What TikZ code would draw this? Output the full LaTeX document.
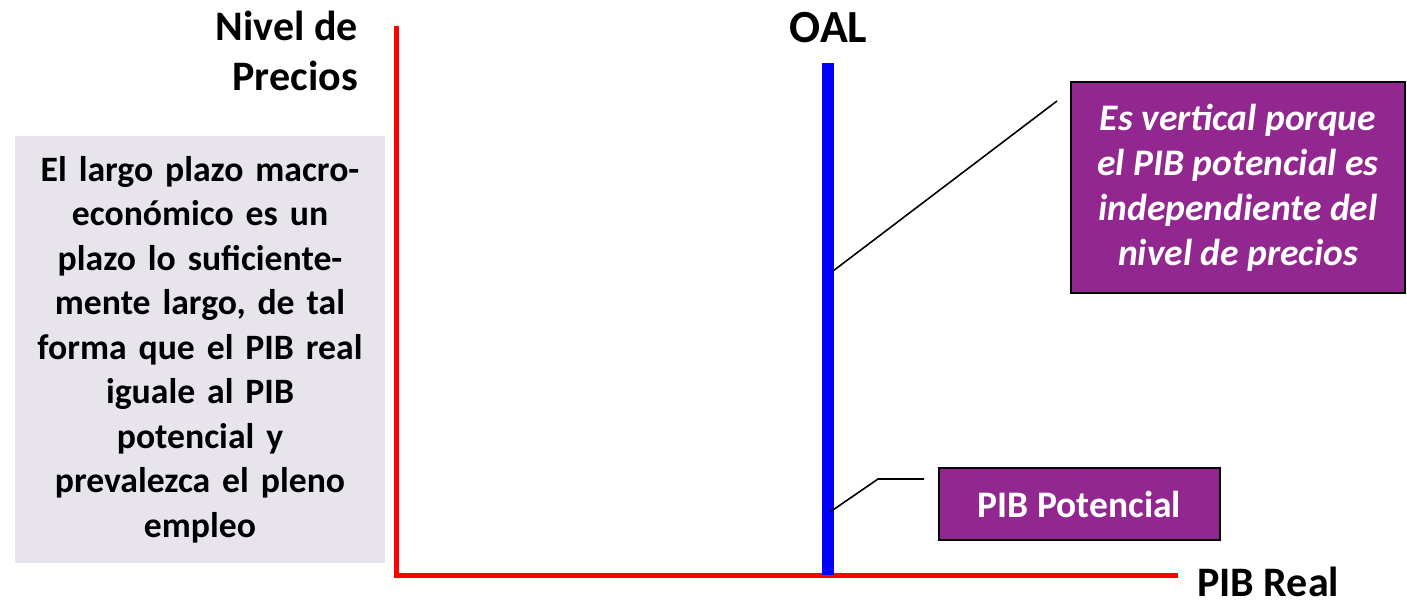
\documentclass[tikz,border=0pt]{standalone}
\usepackage{fontspec}
\setmainfont{Carlito}
\definecolor{boxpurple}{RGB}{146,40,143}
\definecolor{boxgray}{RGB}{232,228,236}
\definecolor{axisred}{RGB}{255,0,0}
\definecolor{oalblue}{RGB}{0,0,255}
\tikzset{
  bigtitle/.style={font=\fontsize{42}{50}\selectfont\bfseries, inner sep=0pt},
  notebox/.style={fill=boxgray, inner sep=0pt, align=center, font=\fontsize{35.7}{44.5}\selectfont\bfseries},
  purplebox/.style={fill=boxpurple, draw=black, line width=2.5pt, inner sep=0pt, align=center, text=white},
  leader/.style={draw=black, line width=1.6pt},
}
\begin{document}
\begin{tikzpicture}[x=1pt,y=-1pt]
\useasboundingbox (0,0) rectangle (1407,601);
% axes
\coordinate (ytop) at (396,26);
\coordinate (origin) at (396,575);
\coordinate (xend) at (1178,575);
\draw[axisred, line width=5pt] (ytop) -- (origin) -- (xend);
% OAL line
\coordinate (oaltop) at (828,63);
\coordinate (oalbot) at (828,575);
\draw[oalblue, line width=12pt] (oaltop) -- (oalbot);
% titles
\node[bigtitle, font=\fontsize{46}{50}\selectfont\bfseries, anchor=base] (oal) at (828.5,43) {OAL};
\node[bigtitle, anchor=east, align=right] (ylab) at (358,51) {Nivel de\\Precios};
\node[bigtitle, anchor=base west] (xlab) at (1197,596) {PIB Real};
% gray note
\node[notebox, text width=370pt, minimum height=427pt] (note) at (200,349.5)
 {El largo plazo macro-\\econ\'omico es un\\plazo lo suficiente-\\mente largo, de tal\\forma que el PIB real\\iguale al PIB\\potencial y\\prevalezca el pleno\\empleo};
% purple boxes
\node[purplebox, minimum width=334pt, minimum height=211pt, font=\fontsize{37.5}{45}\selectfont\bfseries\itshape] (vert) at (1238,187.5)
 {\raisebox{6pt}{\parbox{330pt}{\centering Es vertical porque\\el PIB potencial es\\independiente del\\nivel de precios}}};
\node[purplebox, minimum width=281pt, minimum height=72pt, font=\fontsize{37.5}{42}\selectfont\bfseries] (pot) at (1079.5,504) {PIB Potencial};
% leaders
\coordinate (l1a) at (833,271);
\coordinate (l1b) at (1057,101);
\draw[leader] (l1a) -- (l1b);
\coordinate (l2a) at (830,512);
\coordinate (l2b) at (878,479);
\coordinate (l2c) at (924,479);
\draw[leader] (l2a) -- (l2b) -- (l2c);
\end{tikzpicture}
\end{document}
